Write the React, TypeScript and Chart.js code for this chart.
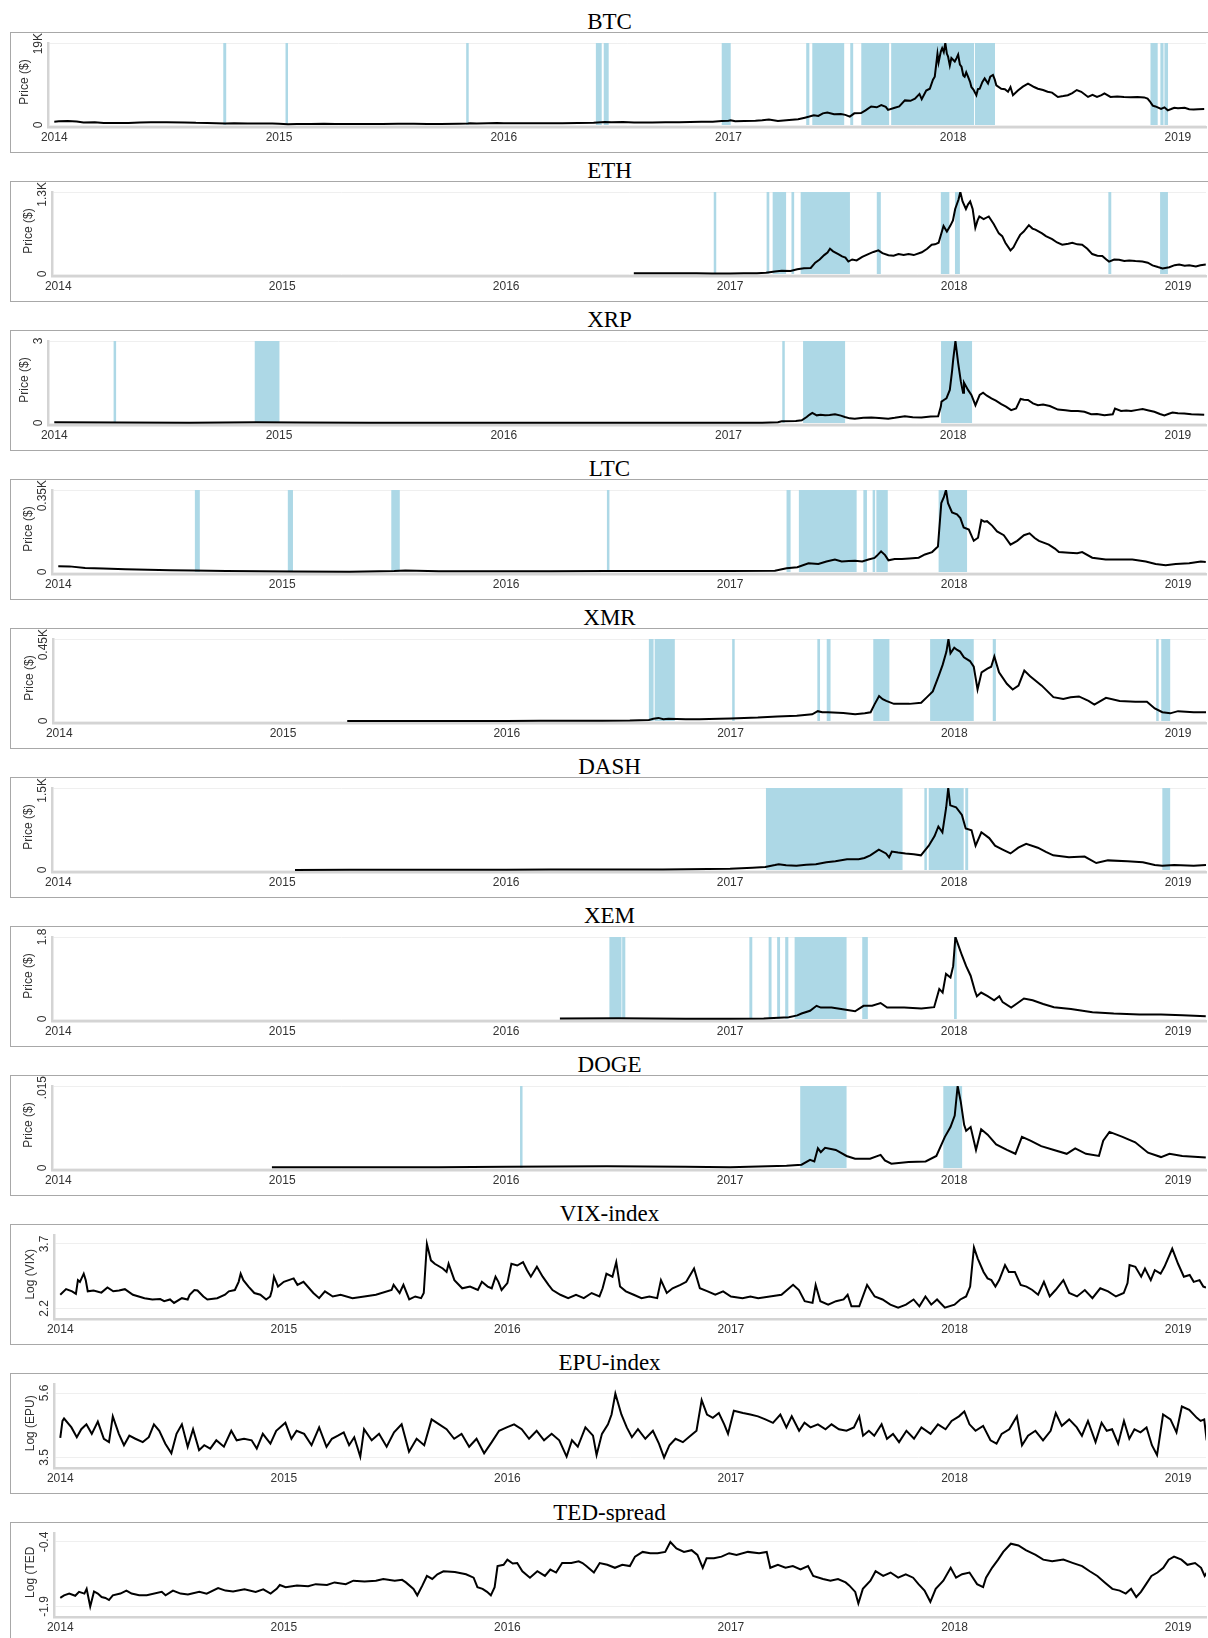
import React, { useEffect, useRef } from "react";
import { Chart, registerables } from "chart.js";

Chart.register(...registerables);

type Pt = [number, number];

// ---------- axis / labels ----------
const yearTicks = [2014, 2015, 2016, 2017, 2018, 2019];
const xRange: Pt = [2013.972, 2019.125];

const panelTitles = ["BTC", "ETH", "XRP", "LTC", "XMR", "DASH", "XEM", "DOGE", "VIX-index", "EPU-index", "TED-spread"];
const yTitles = ["Price ($)", "Price ($)", "Price ($)", "Price ($)", "Price ($)", "Price ($)", "Price ($)", "Price ($)", "Log (VIX)", "Log (EPU)", "Log (TED"];
const yTickValues: Pt[] = [[0, 19000], [0, 1300], [0, 3], [0, 350], [0, 450], [0, 1500], [0, 1.8], [0, 0.015], [2.2, 3.7], [3.5, 5.6], [-1.9, -0.4]];
const yTickLabels: [string, string][] = [["0", "19K"], ["0", "1.3K"], ["0", "3"], ["0", "0.35K"], ["0", "0.45K"], ["0", "1.5K"], ["0", "1.8"], ["0", ".015"], ["2.2", "3.7"], ["3.5", "5.6"], ["-1.9", "-0.4"]];

// ---------- series (decimal year, value) ----------
const btcSeries: Pt[] = [
  [2014.00, 770], [2014.02, 850], [2014.06, 920], [2014.10, 830], [2014.13, 600], [2014.18, 620], [2014.22, 480], [2014.27, 450], [2014.33, 440], [2014.38, 580], [2014.43, 650], [2014.50, 625], [2014.58, 590], [2014.63, 500], [2014.68, 480], [2014.72, 400], [2014.76, 330], [2014.80, 380], [2014.86, 360], [2014.92, 375], [2014.97, 320],
  [2015.00, 315], [2015.04, 180], [2015.08, 230], [2015.14, 240], [2015.20, 275], [2015.25, 245], [2015.32, 225], [2015.40, 235], [2015.46, 250], [2015.53, 285], [2015.60, 265], [2015.66, 230], [2015.72, 240], [2015.80, 270], [2015.84, 330], [2015.85, 420], [2015.88, 330], [2015.93, 420], [2015.97, 450],
  [2016.00, 430], [2016.04, 380], [2016.10, 400], [2016.18, 420], [2016.26, 415], [2016.33, 450], [2016.40, 530], [2016.45, 720], [2016.48, 640], [2016.53, 670], [2016.58, 580], [2016.66, 575], [2016.72, 610], [2016.78, 640], [2016.83, 710], [2016.88, 740], [2016.93, 780], [2016.97, 900],
  [2017.00, 990], [2017.01, 1100], [2017.03, 860], [2017.07, 900], [2017.12, 1000], [2017.15, 1100], [2017.18, 1250], [2017.22, 950], [2017.27, 1150], [2017.31, 1350], [2017.34, 1700], [2017.36, 1950], [2017.38, 2250], [2017.40, 2100], [2017.42, 2700], [2017.44, 2900], [2017.47, 2500], [2017.50, 2550], [2017.52, 2350], [2017.54, 1950], [2017.56, 2700], [2017.59, 2750], [2017.61, 3400], [2017.635, 4300], [2017.66, 4100], [2017.68, 4600], [2017.70, 4200], [2017.71, 3500], [2017.74, 4000], [2017.76, 4300], [2017.785, 5700], [2017.81, 5600], [2017.83, 6100], [2017.85, 7200], [2017.86, 6000], [2017.88, 8000], [2017.896, 8400], [2017.91, 10500], [2017.918, 11200], [2017.93, 16500], [2017.935, 14500], [2017.945, 17000], [2017.951, 17800], [2017.958, 16900], [2017.965, 19000], [2017.972, 16500], [2017.977, 15900], [2017.985, 13800], [2017.992, 15500],
  [2018.007, 14700], [2018.015, 15500], [2018.022, 16300], [2018.03, 14000], [2018.037, 13500], [2018.045, 11500], [2018.051, 11200], [2018.058, 12200], [2018.066, 11200], [2018.075, 10000], [2018.081, 8800], [2018.09, 8200], [2018.103, 6900], [2018.11, 8300], [2018.118, 8400], [2018.13, 10000], [2018.14, 10800], [2018.155, 9600], [2018.165, 11200], [2018.177, 11600], [2018.185, 10500], [2018.192, 9200], [2018.214, 8400], [2018.23, 8300], [2018.244, 7700], [2018.255, 8800], [2018.266, 6900], [2018.288, 8000], [2018.31, 8900], [2018.333, 9600], [2018.347, 9200], [2018.36, 8800], [2018.377, 8400], [2018.40, 8100], [2018.42, 7700], [2018.44, 7500], [2018.466, 6500], [2018.49, 6700], [2018.51, 6900], [2018.53, 7400], [2018.55, 8100], [2018.57, 7700], [2018.60, 6500], [2018.62, 7000], [2018.64, 6500], [2018.66, 6900], [2018.673, 7300], [2018.70, 6500], [2018.73, 6600], [2018.76, 6500], [2018.79, 6450], [2018.82, 6500], [2018.85, 6400], [2018.865, 6100], [2018.875, 5500], [2018.888, 4500], [2018.90, 4300], [2018.925, 3750], [2018.94, 4100], [2018.955, 3400], [2018.97, 3700], [2018.984, 4000],
  [2019.00, 3900], [2019.03, 4000], [2019.05, 3650], [2019.07, 3600], [2019.09, 3650], [2019.117, 3700],
];
const btcBands: Pt[] = [[2014.752, 2014.765], [2015.029, 2015.040], [2015.834, 2015.843], [2016.410, 2016.436], [2016.445, 2016.467], [2016.970, 2017.010], [2017.346, 2017.360], [2017.373, 2017.515], [2017.542, 2017.555], [2017.591, 2017.715], [2017.724, 2018.093], [2018.097, 2018.186], [2018.878, 2018.910], [2018.922, 2018.936], [2018.940, 2018.956]];

const ethSeries: Pt[] = [
  [2016.57, 12], [2016.63, 11], [2016.70, 13], [2016.78, 11], [2016.85, 10], [2016.92, 8], [2017.00, 8], [2017.06, 11], [2017.12, 13], [2017.16, 19], [2017.20, 40], [2017.23, 50], [2017.27, 48], [2017.30, 75], [2017.33, 90], [2017.36, 95], [2017.38, 180], [2017.40, 230], [2017.42, 300], [2017.435, 340], [2017.446, 400], [2017.46, 360], [2017.483, 316], [2017.50, 280], [2017.515, 260], [2017.528, 197], [2017.545, 230], [2017.565, 215], [2017.59, 270], [2017.617, 316], [2017.64, 350], [2017.662, 375], [2017.68, 330], [2017.707, 298], [2017.73, 290], [2017.752, 316], [2017.775, 300], [2017.797, 316], [2017.82, 300], [2017.856, 345], [2017.88, 400], [2017.90, 465], [2017.915, 470], [2017.931, 495], [2017.953, 763], [2017.968, 673], [2017.983, 763], [2017.995, 850],
  [2018.005, 1031], [2018.02, 1180], [2018.028, 1300], [2018.038, 1150], [2018.053, 1031], [2018.062, 1100], [2018.072, 1150], [2018.083, 1031], [2018.095, 733], [2018.105, 850], [2018.113, 912], [2018.132, 870], [2018.155, 912], [2018.177, 793], [2018.20, 644], [2018.215, 600], [2018.229, 495], [2018.252, 375], [2018.265, 420], [2018.28, 525], [2018.295, 620], [2018.311, 673], [2018.334, 775], [2018.35, 720], [2018.363, 703], [2018.393, 644], [2018.41, 600], [2018.438, 554], [2018.46, 500], [2018.483, 465], [2018.51, 480], [2018.528, 495], [2018.55, 470], [2018.572, 465], [2018.595, 400], [2018.617, 316], [2018.64, 290], [2018.662, 286], [2018.68, 230], [2018.692, 197], [2018.715, 230], [2018.737, 226], [2018.76, 205], [2018.782, 215], [2018.81, 205], [2018.841, 197], [2018.865, 180], [2018.886, 137], [2018.91, 110], [2018.931, 89], [2018.961, 107], [2018.985, 140],
  [2019.005, 150], [2019.03, 130], [2019.05, 137], [2019.08, 120], [2019.10, 140], [2019.124, 149],
];
const ethBands: Pt[] = [[2016.928, 2016.937], [2017.163, 2017.175], [2017.190, 2017.250], [2017.274, 2017.286], [2017.315, 2017.535], [2017.655, 2017.673], [2017.941, 2017.979], [2018.004, 2018.026], [2018.689, 2018.702], [2018.920, 2018.955]];

const xrpSeries: Pt[] = [
  [2014.00, 0.025], [2014.30, 0.02], [2014.60, 0.005], [2014.90, 0.03], [2015.10, 0.02], [2015.40, 0.01], [2015.80, 0.005], [2016.20, 0.007], [2016.60, 0.007], [2017.00, 0.006], [2017.15, 0.01], [2017.22, 0.03], [2017.237, 0.06], [2017.30, 0.07], [2017.326, 0.10], [2017.348, 0.22], [2017.36, 0.30], [2017.373, 0.37], [2017.393, 0.28], [2017.41, 0.30], [2017.43, 0.28], [2017.45, 0.29], [2017.474, 0.32], [2017.50, 0.27], [2017.518, 0.22], [2017.54, 0.17], [2017.562, 0.16], [2017.60, 0.19], [2017.636, 0.20], [2017.67, 0.18], [2017.711, 0.16], [2017.74, 0.19], [2017.785, 0.25], [2017.82, 0.21], [2017.859, 0.20], [2017.90, 0.24], [2017.933, 0.25], [2017.945, 0.60], [2017.948, 0.78], [2017.96, 0.85], [2017.97, 0.90], [2017.985, 1.21], [2017.995, 1.90],
  [2018.00, 2.32], [2018.01, 3.00], [2018.016, 2.60], [2018.022, 2.20], [2018.034, 1.52], [2018.044, 1.11], [2018.048, 1.48], [2018.066, 1.21], [2018.081, 1.03], [2018.099, 0.65], [2018.118, 1.03], [2018.133, 1.11], [2018.15, 1.00], [2018.17, 0.90], [2018.19, 0.82], [2018.214, 0.69], [2018.235, 0.60], [2018.258, 0.47], [2018.28, 0.53], [2018.30, 0.88], [2018.315, 0.85], [2018.333, 0.84], [2018.355, 0.72], [2018.377, 0.65], [2018.40, 0.68], [2018.43, 0.62], [2018.466, 0.49], [2018.50, 0.47], [2018.525, 0.44], [2018.555, 0.44], [2018.584, 0.41], [2018.614, 0.32], [2018.64, 0.33], [2018.673, 0.28], [2018.71, 0.32], [2018.72, 0.53], [2018.747, 0.44], [2018.77, 0.46], [2018.792, 0.44], [2018.82, 0.48], [2018.843, 0.51], [2018.87, 0.46], [2018.895, 0.41], [2018.92, 0.33], [2018.94, 0.28], [2018.96, 0.34], [2018.976, 0.38],
  [2019.00, 0.36], [2019.028, 0.35], [2019.06, 0.32], [2019.09, 0.31], [2019.117, 0.30],
];
const xrpBands: Pt[] = [[2014.265, 2014.274], [2014.892, 2015.002], [2017.240, 2017.250], [2017.332, 2017.519], [2017.946, 2018.084]];

const ltcSeries: Pt[] = [
  [2014.00, 25], [2014.05, 24], [2014.12, 17], [2014.20, 15], [2014.30, 12], [2014.40, 10], [2014.50, 8], [2014.60, 6], [2014.75, 4], [2014.90, 3.5], [2015.05, 2], [2015.30, 1.5], [2015.50, 4], [2015.55, 6], [2015.70, 3], [2015.90, 3.5], [2016.20, 3.2], [2016.45, 4.5], [2016.70, 3.8], [2017.00, 4.3], [2017.20, 5], [2017.252, 16], [2017.30, 20], [2017.35, 37], [2017.394, 34], [2017.43, 45], [2017.468, 53], [2017.498, 45], [2017.53, 47], [2017.558, 48], [2017.59, 45], [2017.618, 53], [2017.645, 60], [2017.655, 69], [2017.674, 88], [2017.692, 72], [2017.707, 50], [2017.735, 55], [2017.767, 56], [2017.80, 58], [2017.842, 61], [2017.87, 75], [2017.902, 85], [2017.928, 109], [2017.943, 294], [2017.954, 318], [2017.964, 350], [2017.973, 294], [2017.991, 254],
  [2018.013, 246], [2018.028, 230], [2018.043, 190], [2018.066, 181], [2018.088, 133], [2018.107, 146], [2018.122, 222], [2018.135, 215], [2018.147, 217], [2018.17, 198], [2018.192, 173], [2018.222, 157], [2018.252, 117], [2018.282, 133], [2018.312, 157], [2018.337, 165], [2018.36, 145], [2018.379, 133], [2018.423, 117], [2018.45, 100], [2018.468, 85], [2018.513, 82], [2018.55, 80], [2018.572, 85], [2018.617, 61], [2018.677, 53], [2018.737, 53], [2018.796, 53], [2018.856, 45], [2018.90, 34], [2018.945, 29], [2018.99, 34],
  [2019.05, 37], [2019.102, 45], [2019.124, 43],
];
const ltcBands: Pt[] = [[2014.610, 2014.632], [2015.025, 2015.048], [2015.487, 2015.525], [2016.451, 2016.460], [2017.252, 2017.270], [2017.307, 2017.565], [2017.595, 2017.611], [2017.637, 2017.647], [2017.653, 2017.704], [2017.931, 2018.058]];

const xmrSeries: Pt[] = [
  [2015.287, 0.5], [2015.50, 0.6], [2015.80, 0.5], [2016.00, 0.5], [2016.15, 1.2], [2016.30, 1.5], [2016.426, 2], [2016.55, 3], [2016.635, 6], [2016.655, 12], [2016.678, 17], [2016.70, 10], [2016.722, 12], [2016.80, 9], [2016.861, 10], [2016.95, 12], [2017.00, 14], [2017.122, 19], [2017.209, 25], [2017.296, 29], [2017.365, 37], [2017.39, 54], [2017.41, 48], [2017.435, 48], [2017.504, 44], [2017.557, 37], [2017.60, 42], [2017.626, 48], [2017.643, 90], [2017.664, 137], [2017.68, 120], [2017.696, 110], [2017.73, 94], [2017.80, 94], [2017.852, 100], [2017.878, 131], [2017.904, 162], [2017.93, 246], [2017.948, 308], [2017.965, 381], [2017.974, 450], [2017.983, 371],
  [2018.00, 402], [2018.013, 390], [2018.026, 381], [2018.043, 350], [2018.07, 329], [2018.087, 298], [2018.104, 173], [2018.122, 267], [2018.148, 287], [2018.165, 298], [2018.179, 354], [2018.20, 267], [2018.235, 204], [2018.261, 173], [2018.287, 194], [2018.313, 277], [2018.339, 246], [2018.365, 220], [2018.391, 194], [2018.443, 131], [2018.487, 121], [2018.52, 130], [2018.557, 135], [2018.60, 110], [2018.626, 90], [2018.678, 127], [2018.739, 110], [2018.809, 106], [2018.861, 106], [2018.896, 69], [2018.93, 48], [2018.965, 42],
  [2019.00, 54], [2019.07, 48], [2019.125, 48],
];
const xmrBands: Pt[] = [[2016.635, 2016.656], [2016.661, 2016.751], [2017.009, 2017.017], [2017.388, 2017.400], [2017.430, 2017.447], [2017.638, 2017.710], [2017.892, 2018.087], [2018.172, 2018.186], [2018.903, 2018.913], [2018.925, 2018.965]];

const dashSeries: Pt[] = [
  [2015.057, 2], [2015.30, 3], [2015.50, 3.5], [2015.80, 3], [2016.00, 3], [2016.20, 7], [2016.426, 7], [2016.70, 9], [2017.00, 21], [2017.10, 40], [2017.157, 56], [2017.20, 90], [2017.217, 106], [2017.25, 85], [2017.296, 77], [2017.34, 95], [2017.383, 106], [2017.43, 140], [2017.47, 162], [2017.522, 197], [2017.574, 197], [2017.60, 220], [2017.626, 268], [2017.664, 373], [2017.696, 303], [2017.71, 232], [2017.722, 338], [2017.75, 320], [2017.783, 303], [2017.82, 290], [2017.852, 268], [2017.887, 444], [2017.913, 620], [2017.93, 796], [2017.948, 690], [2017.965, 1148], [2017.974, 1500], [2017.983, 1183],
  [2018.009, 1148], [2018.035, 1007], [2018.052, 760], [2018.078, 725], [2018.096, 444], [2018.122, 690], [2018.157, 584], [2018.183, 444], [2018.217, 373], [2018.252, 303], [2018.287, 408], [2018.322, 479], [2018.374, 408], [2018.41, 330], [2018.443, 268], [2018.513, 232], [2018.583, 246], [2018.635, 127], [2018.687, 176], [2018.774, 162], [2018.843, 141], [2018.896, 92], [2018.93, 77], [2018.983, 92],
  [2019.07, 77], [2019.125, 92],
];
const dashBands: Pt[] = [[2017.160, 2017.770], [2017.868, 2017.878], [2017.887, 2018.043], [2018.050, 2018.063], [2018.930, 2018.965]];

const xemSeries: Pt[] = [
  [2016.24, 0.01], [2016.50, 0.015], [2016.80, 0.008], [2017.00, 0.004], [2017.15, 0.01], [2017.262, 0.04], [2017.30, 0.08], [2017.319, 0.12], [2017.357, 0.18], [2017.386, 0.29], [2017.405, 0.25], [2017.453, 0.25], [2017.51, 0.21], [2017.558, 0.17], [2017.596, 0.29], [2017.634, 0.29], [2017.672, 0.35], [2017.701, 0.25], [2017.777, 0.25], [2017.854, 0.23], [2017.911, 0.26], [2017.934, 0.66], [2017.949, 0.58], [2017.964, 0.99], [2017.984, 0.91], [2017.996, 1.16],
  [2018.006, 1.80], [2018.017, 1.65], [2018.035, 1.40], [2018.054, 1.16], [2018.074, 0.95], [2018.093, 0.62], [2018.102, 0.50], [2018.121, 0.58], [2018.15, 0.50], [2018.179, 0.41], [2018.202, 0.50], [2018.217, 0.37], [2018.255, 0.25], [2018.284, 0.35], [2018.312, 0.45], [2018.351, 0.41], [2018.398, 0.33], [2018.446, 0.26], [2018.522, 0.22], [2018.618, 0.15], [2018.713, 0.12], [2018.828, 0.10], [2018.924, 0.10],
  [2019.02, 0.08], [2019.124, 0.06],
];
const xemBands: Pt[] = [[2016.461, 2016.515], [2016.518, 2016.532], [2017.086, 2017.099], [2017.172, 2017.185], [2017.210, 2017.223], [2017.246, 2017.260], [2017.288, 2017.520], [2017.590, 2017.615], [2018.000, 2018.012]];

const dogeSeries: Pt[] = [
  [2014.954, 0.00015], [2015.30, 0.00012], [2015.70, 0.00015], [2016.00, 0.00025], [2016.45, 0.0003], [2016.80, 0.00022], [2017.00, 0.00014], [2017.252, 0.0004], [2017.319, 0.0006], [2017.357, 0.0015], [2017.376, 0.0012], [2017.392, 0.0036], [2017.405, 0.0029], [2017.424, 0.0037], [2017.472, 0.0033], [2017.52, 0.0022], [2017.558, 0.0017], [2017.625, 0.0017], [2017.672, 0.0024], [2017.691, 0.0014], [2017.72, 0.0008], [2017.797, 0.0011], [2017.873, 0.0012], [2017.921, 0.0022], [2017.959, 0.0057], [2017.984, 0.0075],
  [2018.003, 0.0096], [2018.016, 0.0150], [2018.03, 0.0121], [2018.045, 0.0079], [2018.054, 0.0068], [2018.074, 0.0075], [2018.098, 0.0033], [2018.121, 0.0071], [2018.15, 0.0061], [2018.188, 0.0043], [2018.236, 0.0033], [2018.274, 0.0026], [2018.303, 0.0057], [2018.341, 0.0050], [2018.389, 0.0040], [2018.446, 0.0033], [2018.503, 0.0026], [2018.541, 0.0036], [2018.589, 0.0026], [2018.647, 0.0022], [2018.666, 0.0050], [2018.694, 0.0066], [2018.752, 0.0057], [2018.809, 0.0047], [2018.866, 0.0028], [2018.924, 0.0020], [2018.962, 0.0026],
  [2019.019, 0.0022], [2019.124, 0.0019],
];
const dogeBands: Pt[] = [[2016.063, 2016.072], [2017.313, 2017.520], [2017.952, 2018.036]];

const vixSeries: Pt[] = [
  [2014.000, 2.52], [2014.026, 2.65], [2014.053, 2.60], [2014.070, 2.54], [2014.079, 2.86], [2014.088, 2.82], [2014.105, 3.01], [2014.114, 2.86], [2014.123, 2.60], [2014.149, 2.62], [2014.184, 2.57], [2014.211, 2.69], [2014.237, 2.60], [2014.263, 2.62], [2014.289, 2.65], [2014.325, 2.52], [2014.351, 2.48], [2014.377, 2.44], [2014.412, 2.41], [2014.447, 2.42], [2014.465, 2.37], [2014.491, 2.41], [2014.509, 2.33], [2014.544, 2.44], [2014.570, 2.41], [2014.579, 2.52], [2014.600, 2.63], [2014.614, 2.62], [2014.640, 2.48], [2014.658, 2.41], [2014.702, 2.44], [2014.737, 2.52], [2014.754, 2.60], [2014.781, 2.63], [2014.798, 2.82], [2014.807, 3.01], [2014.819, 2.86], [2014.842, 2.71], [2014.868, 2.56], [2014.895, 2.52], [2014.921, 2.41], [2014.939, 2.48], [2014.947, 2.63], [2014.956, 2.94], [2014.974, 2.71],
  [2015.000, 2.82], [2015.044, 2.90], [2015.061, 2.75], [2015.088, 2.82], [2015.132, 2.56], [2015.158, 2.44], [2015.184, 2.60], [2015.219, 2.48], [2015.254, 2.52], [2015.307, 2.44], [2015.360, 2.48], [2015.412, 2.52], [2015.482, 2.63], [2015.491, 2.75], [2015.518, 2.56], [2015.535, 2.75], [2015.561, 2.41], [2015.588, 2.48], [2015.614, 2.44], [2015.626, 2.56], [2015.640, 3.70], [2015.658, 3.32], [2015.675, 3.24], [2015.711, 3.13], [2015.728, 3.05], [2015.737, 3.24], [2015.763, 2.86], [2015.798, 2.67], [2015.833, 2.71], [2015.868, 2.63], [2015.886, 2.82], [2015.912, 2.71], [2015.930, 2.67], [2015.947, 2.94], [2015.960, 2.82], [2015.974, 2.63],
  [2016.000, 2.79], [2016.018, 3.24], [2016.044, 3.20], [2016.070, 3.28], [2016.088, 3.09], [2016.105, 2.94], [2016.132, 3.17], [2016.158, 2.94], [2016.184, 2.75], [2016.202, 2.63], [2016.237, 2.52], [2016.272, 2.44], [2016.307, 2.52], [2016.342, 2.44], [2016.377, 2.56], [2016.412, 2.48], [2016.426, 2.67], [2016.443, 3.01], [2016.470, 2.94], [2016.487, 3.28], [2016.504, 2.71], [2016.530, 2.60], [2016.565, 2.52], [2016.600, 2.44], [2016.635, 2.48], [2016.670, 2.44], [2016.687, 2.86], [2016.713, 2.56], [2016.739, 2.67], [2016.774, 2.75], [2016.800, 2.82], [2016.835, 3.13], [2016.861, 2.67], [2016.896, 2.60], [2016.930, 2.52], [2016.965, 2.60],
  [2017.000, 2.48], [2017.052, 2.44], [2017.087, 2.48], [2017.122, 2.44], [2017.174, 2.48], [2017.226, 2.52], [2017.278, 2.75], [2017.304, 2.63], [2017.330, 2.37], [2017.365, 2.33], [2017.379, 2.75], [2017.400, 2.37], [2017.435, 2.29], [2017.470, 2.37], [2017.504, 2.41], [2017.522, 2.52], [2017.539, 2.25], [2017.574, 2.25], [2017.609, 2.75], [2017.643, 2.48], [2017.678, 2.41], [2017.713, 2.29], [2017.748, 2.22], [2017.783, 2.29], [2017.817, 2.41], [2017.843, 2.25], [2017.870, 2.48], [2017.896, 2.29], [2017.922, 2.41], [2017.957, 2.22],
  [2018.000, 2.29], [2018.026, 2.41], [2018.052, 2.48], [2018.070, 2.71], [2018.087, 3.62], [2018.104, 3.36], [2018.130, 3.05], [2018.148, 2.90], [2018.165, 2.86], [2018.183, 2.71], [2018.200, 2.86], [2018.226, 3.21], [2018.243, 3.05], [2018.270, 3.05], [2018.296, 2.75], [2018.322, 2.71], [2018.348, 2.63], [2018.374, 2.52], [2018.400, 2.82], [2018.426, 2.48], [2018.452, 2.63], [2018.487, 2.86], [2018.513, 2.56], [2018.548, 2.48], [2018.583, 2.63], [2018.617, 2.44], [2018.652, 2.67], [2018.687, 2.60], [2018.722, 2.48], [2018.757, 2.56], [2018.774, 2.79], [2018.783, 3.21], [2018.809, 3.17], [2018.835, 2.94], [2018.852, 3.13], [2018.878, 2.86], [2018.896, 3.09], [2018.922, 3.01], [2018.939, 3.17], [2018.974, 3.59],
  [2019.000, 3.24], [2019.026, 2.94], [2019.052, 2.98], [2019.070, 2.82], [2019.096, 2.86], [2019.113, 2.71], [2019.125, 2.69],
];

const epuSeries: Pt[] = [
  [2014.000, 4.14], [2014.010, 4.69], [2014.017, 4.77], [2014.050, 4.48], [2014.074, 4.16], [2014.094, 4.42], [2014.117, 4.58], [2014.141, 4.27], [2014.168, 4.67], [2014.195, 4.11], [2014.218, 4.00], [2014.235, 4.84], [2014.262, 4.27], [2014.285, 3.90], [2014.309, 4.21], [2014.336, 4.11], [2014.369, 4.00], [2014.396, 4.16], [2014.419, 4.58], [2014.443, 4.37], [2014.470, 3.95], [2014.497, 3.64], [2014.520, 4.27], [2014.544, 4.58], [2014.570, 3.85], [2014.594, 4.42], [2014.621, 3.74], [2014.644, 3.90], [2014.671, 3.79], [2014.698, 4.06], [2014.732, 3.85], [2014.765, 4.37], [2014.789, 4.06], [2014.822, 4.11], [2014.856, 4.06], [2014.879, 3.79], [2014.906, 4.27], [2014.940, 3.95], [2014.966, 4.37],
  [2015.007, 4.63], [2015.034, 4.11], [2015.057, 4.37], [2015.091, 4.27], [2015.124, 3.90], [2015.158, 4.48], [2015.191, 3.85], [2015.215, 4.11], [2015.242, 4.21], [2015.268, 4.32], [2015.292, 3.90], [2015.315, 4.16], [2015.342, 3.53], [2015.359, 4.42], [2015.393, 4.06], [2015.426, 4.27], [2015.460, 3.85], [2015.493, 4.32], [2015.527, 4.58], [2015.560, 3.69], [2015.594, 4.11], [2015.628, 3.90], [2015.661, 4.74], [2015.695, 4.58], [2015.728, 4.42], [2015.762, 4.11], [2015.795, 4.27], [2015.829, 3.85], [2015.862, 4.11], [2015.896, 3.64], [2015.930, 4.00], [2015.963, 4.37], [2015.997, 4.48],
  [2016.030, 4.58], [2016.064, 4.42], [2016.097, 4.11], [2016.131, 4.37], [2016.164, 4.06], [2016.198, 4.27], [2016.232, 4.06], [2016.265, 3.53], [2016.289, 4.06], [2016.315, 3.85], [2016.349, 4.48], [2016.383, 4.21], [2016.399, 3.58], [2016.423, 4.27], [2016.450, 4.58], [2016.466, 4.90], [2016.483, 5.58], [2016.510, 4.90], [2016.534, 4.48], [2016.557, 4.16], [2016.584, 4.42], [2016.617, 4.11], [2016.651, 4.37], [2016.678, 3.95], [2016.701, 3.50], [2016.725, 3.90], [2016.752, 4.11], [2016.785, 4.00], [2016.819, 4.21], [2016.846, 4.37], [2016.869, 5.37], [2016.893, 4.90], [2016.919, 4.79], [2016.946, 4.95], [2016.970, 4.58], [2016.987, 4.27],
  [2017.013, 5.02], [2017.054, 4.95], [2017.087, 4.90], [2017.121, 4.84], [2017.154, 4.74], [2017.188, 4.63], [2017.221, 4.90], [2017.248, 4.48], [2017.272, 4.84], [2017.305, 4.37], [2017.329, 4.63], [2017.356, 4.48], [2017.389, 4.58], [2017.423, 4.42], [2017.450, 4.58], [2017.483, 4.42], [2017.517, 4.37], [2017.550, 4.48], [2017.574, 4.84], [2017.591, 4.21], [2017.617, 4.37], [2017.641, 4.21], [2017.674, 4.58], [2017.698, 4.11], [2017.725, 4.27], [2017.752, 4.00], [2017.785, 4.37], [2017.819, 4.11], [2017.852, 4.48], [2017.893, 4.27], [2017.926, 4.58], [2017.960, 4.42], [2017.987, 4.69],
  [2018.020, 4.84], [2018.044, 5.00], [2018.067, 4.58], [2018.094, 4.37], [2018.128, 4.53], [2018.161, 4.06], [2018.188, 3.95], [2018.211, 4.27], [2018.245, 4.42], [2018.279, 4.84], [2018.302, 3.90], [2018.329, 4.21], [2018.362, 4.37], [2018.396, 4.06], [2018.430, 4.37], [2018.453, 4.95], [2018.480, 4.53], [2018.513, 4.74], [2018.547, 4.48], [2018.570, 4.21], [2018.597, 4.69], [2018.631, 4.00], [2018.658, 4.63], [2018.681, 4.37], [2018.705, 4.42], [2018.732, 3.95], [2018.758, 4.69], [2018.782, 4.11], [2018.805, 4.42], [2018.832, 4.32], [2018.859, 4.48], [2018.883, 3.90], [2018.906, 3.58], [2018.933, 4.90], [2018.966, 4.74], [2018.993, 4.32],
  [2019.017, 5.16], [2019.050, 5.05], [2019.084, 4.79], [2019.101, 4.69], [2019.117, 4.74], [2019.128, 4.06],
];

const tedSeries: Pt[] = [
  [2014.000, -1.70], [2014.017, -1.64], [2014.040, -1.60], [2014.067, -1.65], [2014.084, -1.56], [2014.108, -1.60], [2014.118, -1.49], [2014.134, -1.90], [2014.151, -1.55], [2014.168, -1.60], [2014.185, -1.68], [2014.202, -1.70], [2014.218, -1.75], [2014.235, -1.64], [2014.269, -1.60], [2014.296, -1.53], [2014.319, -1.60], [2014.353, -1.64], [2014.387, -1.64], [2014.454, -1.56], [2014.471, -1.64], [2014.504, -1.53], [2014.538, -1.60], [2014.571, -1.62], [2014.622, -1.56], [2014.655, -1.60], [2014.706, -1.47], [2014.739, -1.53], [2014.773, -1.55], [2014.824, -1.50], [2014.874, -1.56], [2014.908, -1.50], [2014.941, -1.60], [2014.968, -1.49], [2014.982, -1.40],
  [2015.008, -1.45], [2015.059, -1.41], [2015.109, -1.43], [2015.143, -1.38], [2015.193, -1.40], [2015.227, -1.34], [2015.277, -1.38], [2015.311, -1.30], [2015.361, -1.32], [2015.412, -1.30], [2015.445, -1.26], [2015.496, -1.30], [2015.529, -1.28], [2015.546, -1.34], [2015.580, -1.49], [2015.597, -1.64], [2015.620, -1.41], [2015.640, -1.19], [2015.664, -1.26], [2015.687, -1.15], [2015.714, -1.08], [2015.765, -1.10], [2015.815, -1.15], [2015.849, -1.23], [2015.866, -1.45], [2015.889, -1.49], [2015.909, -1.56], [2015.926, -1.64], [2015.943, -1.45], [2015.956, -0.96], [2015.983, -0.93],
  [2016.000, -0.81], [2016.024, -0.90], [2016.044, -0.89], [2016.067, -1.08], [2016.101, -1.23], [2016.134, -1.08], [2016.168, -1.19], [2016.192, -1.04], [2016.218, -1.11], [2016.245, -0.89], [2016.286, -0.89], [2016.319, -0.85], [2016.336, -0.89], [2016.353, -0.96], [2016.387, -1.11], [2016.413, -0.89], [2016.447, -0.93], [2016.481, -1.00], [2016.514, -0.93], [2016.548, -0.96], [2016.571, -0.74], [2016.605, -0.63], [2016.639, -0.66], [2016.672, -0.66], [2016.706, -0.63], [2016.729, -0.40], [2016.756, -0.55], [2016.790, -0.63], [2016.824, -0.59], [2016.850, -0.70], [2016.874, -1.00], [2016.891, -0.78], [2016.924, -0.78], [2016.958, -0.74], [2016.992, -0.66],
  [2017.025, -0.70], [2017.076, -0.63], [2017.126, -0.66], [2017.160, -0.63], [2017.176, -1.00], [2017.210, -0.93], [2017.244, -1.00], [2017.277, -0.96], [2017.311, -1.04], [2017.345, -0.96], [2017.368, -1.19], [2017.412, -1.26], [2017.445, -1.30], [2017.479, -1.26], [2017.513, -1.34], [2017.529, -1.41], [2017.556, -1.56], [2017.570, -1.83], [2017.590, -1.49], [2017.624, -1.30], [2017.647, -1.08], [2017.681, -1.19], [2017.714, -1.11], [2017.748, -1.23], [2017.782, -1.15], [2017.815, -1.23], [2017.839, -1.38], [2017.866, -1.53], [2017.892, -1.79], [2017.916, -1.49], [2017.950, -1.30], [2017.983, -1.00],
  [2018.007, -1.23], [2018.034, -1.15], [2018.067, -1.11], [2018.101, -1.38], [2018.128, -1.45], [2018.141, -1.23], [2018.168, -1.00], [2018.195, -0.81], [2018.218, -0.63], [2018.252, -0.44], [2018.286, -0.48], [2018.319, -0.59], [2018.363, -0.70], [2018.397, -0.81], [2018.437, -0.85], [2018.487, -0.81], [2018.531, -0.89], [2018.571, -0.96], [2018.605, -1.08], [2018.639, -1.19], [2018.672, -1.34], [2018.706, -1.49], [2018.739, -1.53], [2018.766, -1.60], [2018.790, -1.49], [2018.813, -1.68], [2018.834, -1.56], [2018.857, -1.38], [2018.881, -1.19], [2018.908, -1.11], [2018.934, -1.00], [2018.958, -0.81], [2018.982, -0.74],
  [2019.015, -0.81], [2019.042, -0.93], [2019.076, -0.89], [2019.103, -1.00], [2019.119, -1.19], [2019.129, -1.11],
];

const allSeries: Pt[][] = [btcSeries, ethSeries, xrpSeries, ltcSeries, xmrSeries, dashSeries, xemSeries, dogeSeries, vixSeries, epuSeries, tedSeries];
const allBands: Pt[][] = [btcBands, ethBands, xrpBands, ltcBands, xmrBands, dashBands, xemBands, dogeBands, [], [], []];

// ---------- layout (pixels) ----------
const PAGE_W = 1208;
const PAGE_H = 1638;
const T0 = 21;
const PITCH = 149.05;
const BOX_LEFT = 10;
const CANVAS_W = 1197;
const CANVAS_H = 119;
const PLOT_TOP = 10;
const PLOT_BOTTOM = 94;
const plotLefts = [48, 52, 48, 52, 53, 52, 52, 52, 54, 54, 54];

const AXIS_GRAY = "#d4d4d4";
const BAND_BLUE = "#add8e6";
const TEXT_COL = "#333333";
const SANS = '"Liberation Sans", Arial, Helvetica, sans-serif';

function Panel({ idx }: { idx: number }) {
  const ref = useRef<HTMLCanvasElement | null>(null);
  const T = T0 + idx * PITCH;
  const boxTop = Math.round(T + 10.5);

  useEffect(() => {
    const canvas = ref.current;
    if (!canvas) return;
    const ticks = yTickValues[idx];
    const labels = yTickLabels[idx];
    const series = allSeries[idx];
    const bands = allBands[idx];
    const isPrice = idx < 8;
    const [lo, hi] = ticks;
    let yMin: number, yMax: number;
    if (isPrice) {
      yMax = hi;
      yMin = -hi * 2 / 82;
    } else {
      const upp = (hi - lo) / 64.5;
      yMax = hi + 9 * upp;
      yMin = lo - 10.5 * upp;
    }
    const plotLeft = plotLefts[idx] - (BOX_LEFT + 1);

    const bandPlugin = {
      id: "bands" + idx,
      beforeDatasetsDraw(chart: any) {
        const { ctx, scales } = chart;
        const xs = scales.x;
        const ys = scales.y;
        if (!bands.length) return;
        const yTop = ys.getPixelForValue(hi);
        const yBot = ys.getPixelForValue(0);
        ctx.save();
        ctx.fillStyle = BAND_BLUE;
        for (const [a, b] of bands) {
          let x1 = xs.getPixelForValue(a);
          let x2 = xs.getPixelForValue(b);
          if (x2 - x1 < 2.5) {
            const c = (x1 + x2) / 2;
            x1 = c - 1.25;
            x2 = c + 1.25;
          }
          ctx.fillRect(x1, yTop, x2 - x1, yBot - yTop);
        }
        ctx.restore();
      },
    };

    const labelPlugin = {
      id: "ylabels" + idx,
      afterDraw(chart: any) {
        const { ctx, scales, chartArea } = chart;
        const ys = scales.y;
        ctx.save();
        ctx.fillStyle = TEXT_COL;
        ctx.textAlign = "center";
        ctx.textBaseline = "middle";
        ctx.font = `12px ${SANS}`;
        ticks.forEach((v, k) => {
          const half = ctx.measureText(labels[k]).width / 2;
          let py = ys.getPixelForValue(v);
          py = Math.max(py, half);
          py = Math.min(py, CANVAS_H - half);
          ctx.save();
          ctx.translate(chartArea.left - 9, py);
          ctx.rotate(-Math.PI / 2);
          ctx.fillText(labels[k], 0, 0);
          ctx.restore();
        });
        const mid = (ys.getPixelForValue(lo) + ys.getPixelForValue(hi)) / 2 - 2;
        ctx.translate(chartArea.left - 23, mid);
        ctx.rotate(-Math.PI / 2);
        ctx.fillText(yTitles[idx], 0, 0);
        ctx.restore();
      },
    };

    const chart = new Chart(canvas, {
      type: "line",
      data: {
        datasets: [
          {
            data: series.map(([x, y]) => ({ x, y })),
            borderColor: "#000000",
            borderWidth: 2,
            pointRadius: 0,
            tension: 0,
            fill: false,
          },
        ],
      },
      options: {
        responsive: false,
        animation: false,
        devicePixelRatio: 1,
        layout: { padding: { top: PLOT_TOP, right: 2, left: 0, bottom: 0 } },
        plugins: { legend: { display: false }, tooltip: { enabled: false }, title: { display: false } },
        scales: {
          x: {
            type: "linear",
            min: xRange[0],
            max: xRange[1],
            afterBuildTicks: (s: any) => {
              s.ticks = yearTicks.map((v) => ({ value: v }));
            },
            afterFit: (s: any) => {
              s.height = CANVAS_H - PLOT_BOTTOM;
            },
            grid: { display: false, drawTicks: false },
            border: { display: true, color: AXIS_GRAY, width: 2.5 },
            ticks: {
              autoSkip: false,
              maxRotation: 0,
              minRotation: 0,
              padding: 3,
              color: TEXT_COL,
              font: { family: SANS, size: 12 },
              callback: (v: any) => String(v),
            },
          },
          y: {
            type: "linear",
            min: yMin,
            max: yMax,
            afterBuildTicks: (s: any) => {
              s.ticks = ticks.map((v) => ({ value: v }));
            },
            afterFit: (s: any) => {
              s.width = plotLeft;
            },
            grid: { display: true, color: "#efefef", lineWidth: 1, drawTicks: false },
            border: { display: true, color: AXIS_GRAY, width: 2.5 },
            ticks: { display: false },
          },
        },
      } as any,
      plugins: [bandPlugin, labelPlugin],
    });
    return () => chart.destroy();
  }, [idx]);

  return (
    <>
      <div
        style={{
          position: "absolute",
          left: BOX_LEFT,
          width: CANVAS_W + 2,
          top: Math.round(T - 12),
          height: 26,
          lineHeight: "26px",
          textAlign: "center",
          fontFamily: '"Liberation Serif", "DejaVu Serif", serif',
          fontSize: 23,
          color: "#000",
          whiteSpace: "nowrap",
        }}
      >
        {panelTitles[idx]}
      </div>
      <div
        style={{
          position: "absolute",
          left: BOX_LEFT,
          top: boxTop,
          width: CANVAS_W + 20,
          height: CANVAS_H,
          border: "1px solid #a8a8a8",
          background: "#fff",
        }}
      >
        <canvas ref={ref} width={CANVAS_W} height={CANVAS_H} style={{ display: "block", width: CANVAS_W, height: CANVAS_H }} />
      </div>
    </>
  );
}

export default function App() {
  return (
    <div
      style={{
        position: "absolute",
        left: 0,
        top: 0,
        width: PAGE_W,
        height: PAGE_H,
        overflow: "hidden",
        background: "#ffffff",
      }}
    >
      {panelTitles.map((_, i) => (
        <Panel key={i} idx={i} />
      ))}
    </div>
  );
}
